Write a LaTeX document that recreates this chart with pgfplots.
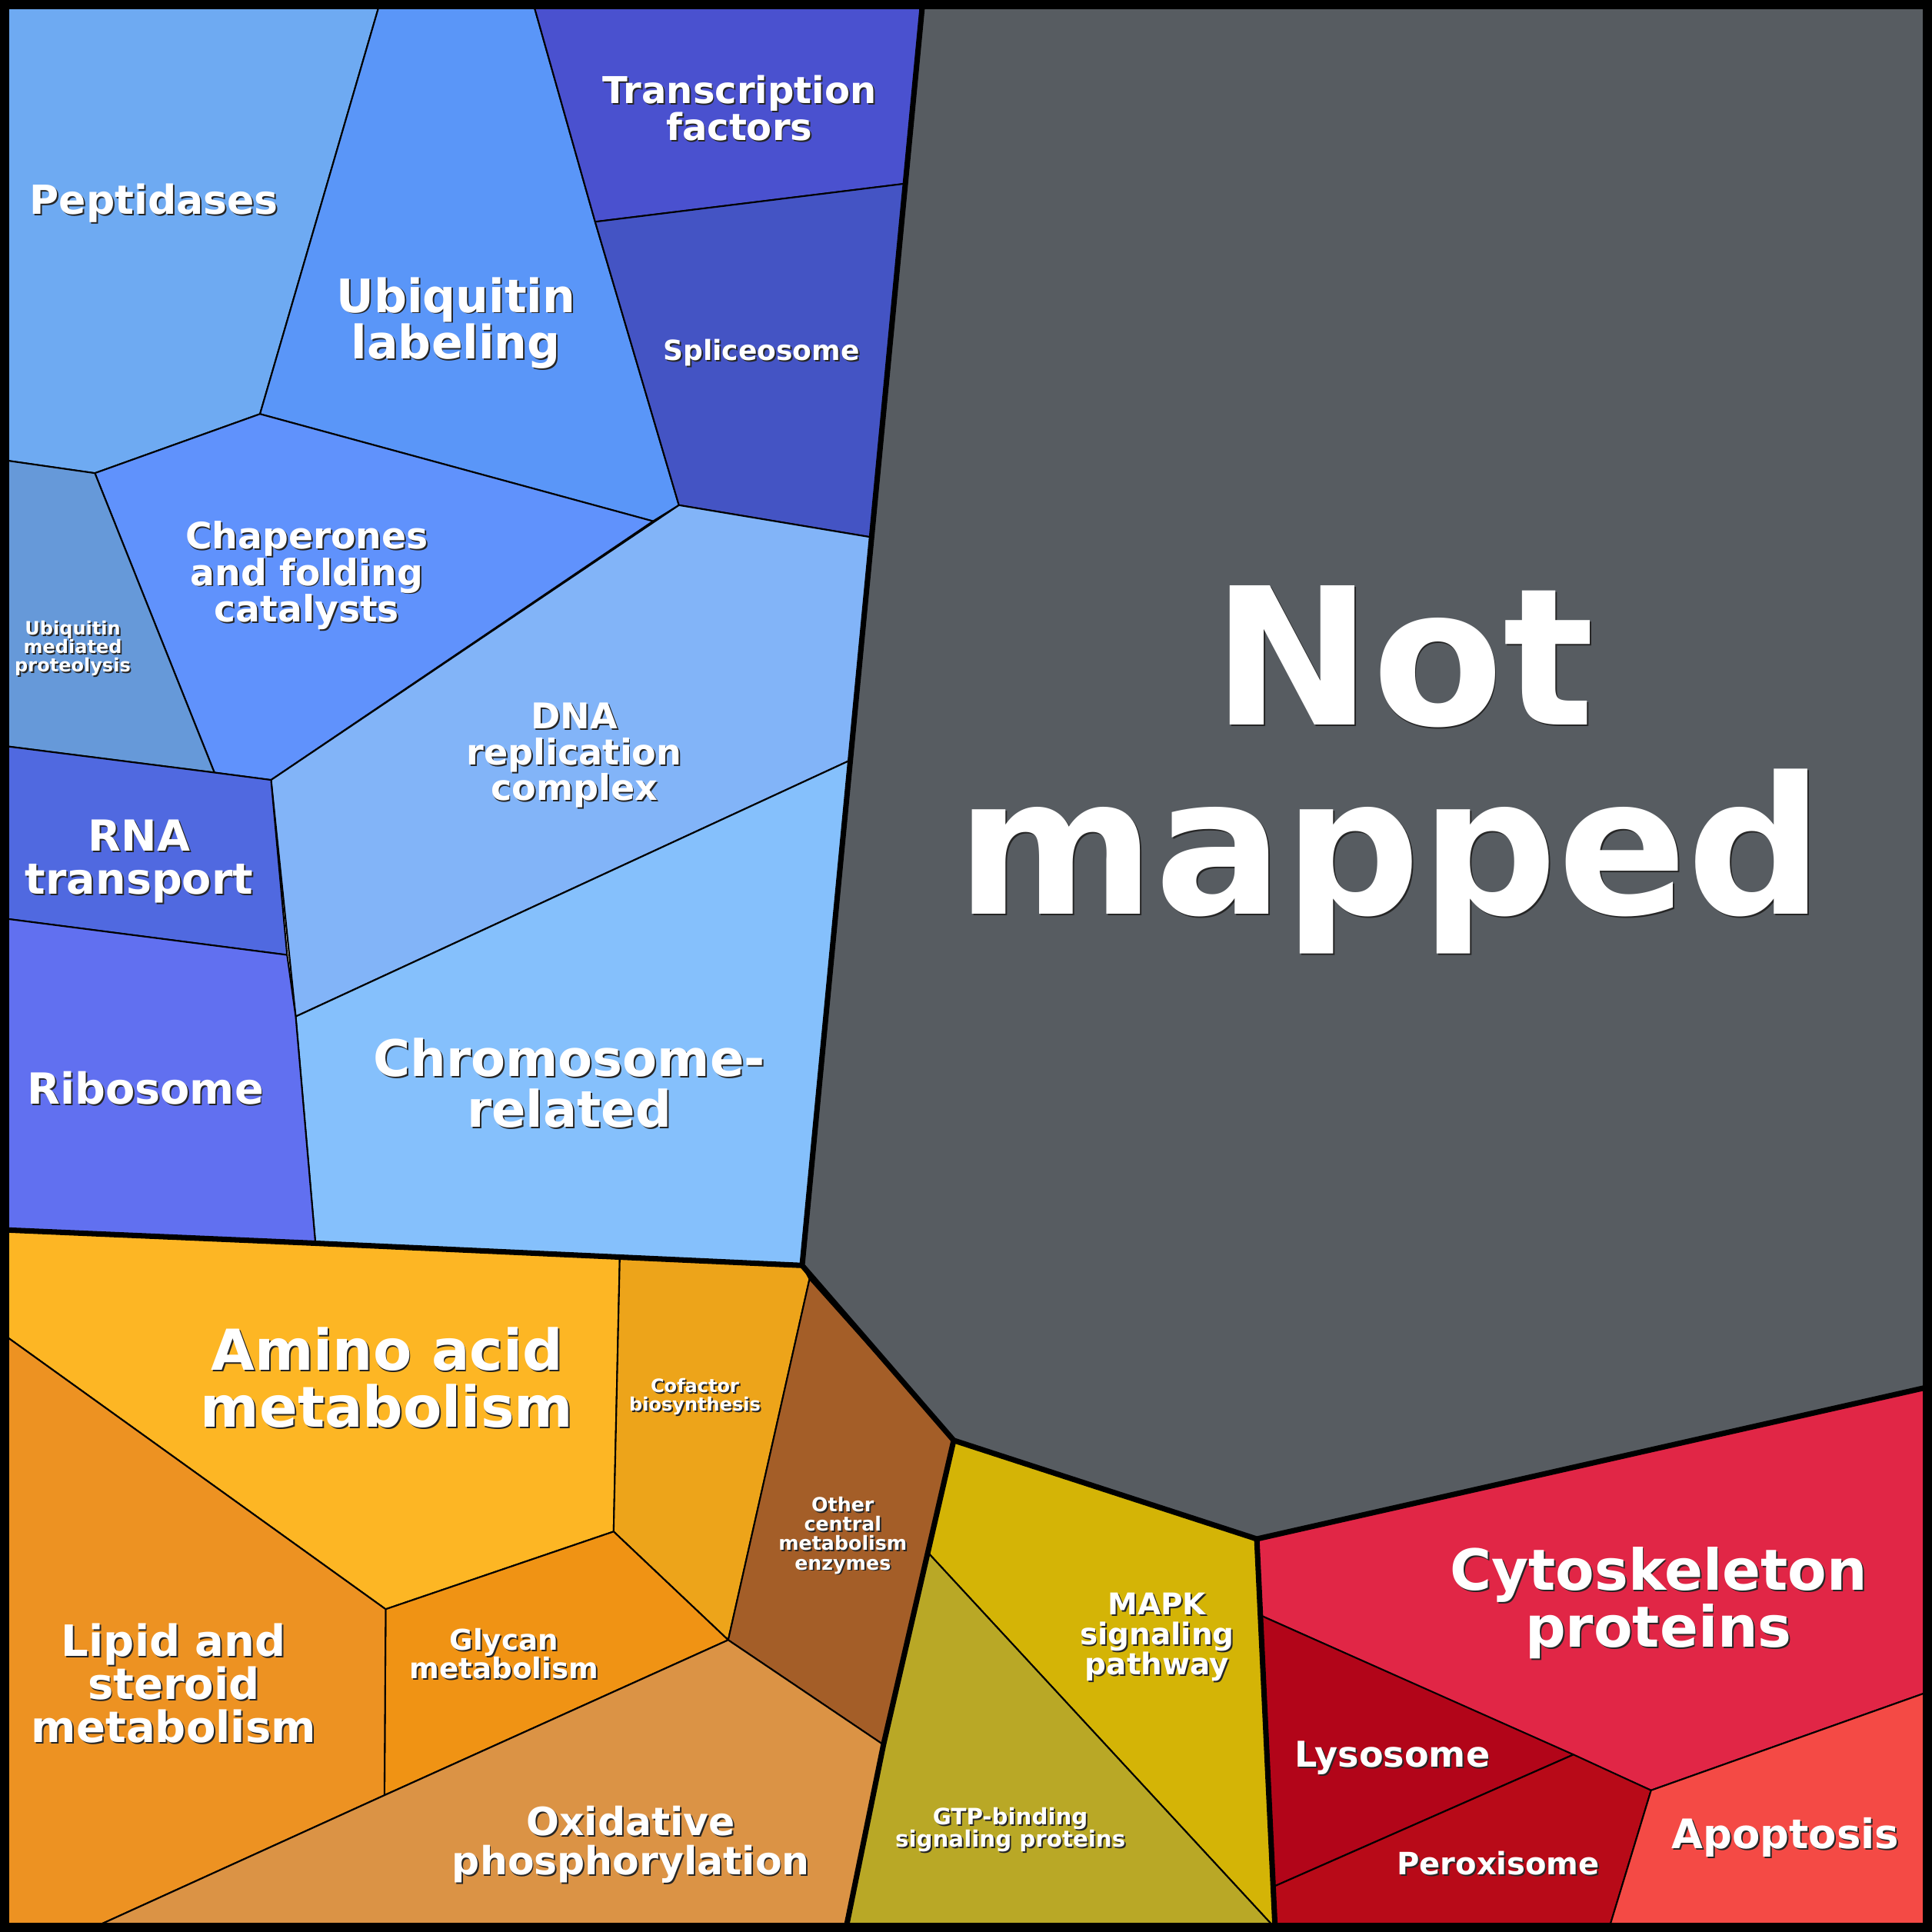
\documentclass[border=0pt]{standalone}
\usepackage{pgfplots}
\pgfplotsset{compat=1.18}
\usepackage{fontspec}
\setmainfont{DejaVu Sans}
\definecolor{cNot}{HTML}{575C61}
\definecolor{cPep}{HTML}{6EAAF2}
\definecolor{cUbl}{HTML}{5A96F8}
\definecolor{cTf}{HTML}{4A51CF}
\definecolor{cSpl}{HTML}{4454C4}
\definecolor{cCha}{HTML}{6092FC}
\definecolor{cUmp}{HTML}{6699D9}
\definecolor{cDna}{HTML}{82B4F8}
\definecolor{cChr}{HTML}{85C0FC}
\definecolor{cRna}{HTML}{5069E0}
\definecolor{cRib}{HTML}{6170F0}
\definecolor{cAmi}{HTML}{FDB624}
\definecolor{cCof}{HTML}{EDA41A}
\definecolor{cOth}{HTML}{A45E28}
\definecolor{cLip}{HTML}{ED9222}
\definecolor{cGly}{HTML}{F09314}
\definecolor{cOxi}{HTML}{DB9345}
\definecolor{cMap}{HTML}{D4B406}
\definecolor{cGtp}{HTML}{B9A826}
\definecolor{cCyt}{HTML}{E12646}
\definecolor{cLys}{HTML}{B20519}
\definecolor{cPer}{HTML}{B80A18}
\definecolor{cApo}{HTML}{F44A45}
\newcommand{\lab}[4]{%
  \node[align=center,inner sep=0pt,font=\fontsize{#3}{#3}\selectfont\bfseries,text=black!85,xshift=1.2pt,yshift=-1.2pt] at (axis cs:#1,#2) {#4};
  \node[align=center,inner sep=0pt,font=\fontsize{#3}{#3}\selectfont\bfseries,text=white] at (axis cs:#1,#2) {#4};}
\begin{document}
\begin{tikzpicture}
\begin{axis}[width=1568pt,height=1568pt,scale only axis,
  xmin=0,xmax=1568,ymin=0,ymax=1568,y dir=reverse,hide axis,clip=true]
\pgfplotsset{cell/.style={draw=black,line width=1.3pt,line join=round}}
% blue group
\addplot[cell,fill=cPep] coordinates {(0,0)(309,0)(211,336)(77,384)(0,373)(0,0)};
\addplot[cell,fill=cUbl] coordinates {(309,0)(432,0)(483,180)(551,410)(530,423)(211,336)(309,0)};
\addplot[cell,fill=cTf] coordinates {(432,0)(749,0)(735,149)(483,180)(432,0)};
\addplot[cell,fill=cSpl] coordinates {(483,180)(735,149)(707,436)(551,410)(483,180)};
\addplot[cell,fill=cCha] coordinates {(77,384)(211,336)(530,423)(220,633)(174,627)(77,384)};
\addplot[cell,fill=cUmp] coordinates {(0,373)(77,384)(174,627)(0,605)(0,373)};
\addplot[cell,fill=cDna] coordinates {(551,410)(707,436)(690,617)(240,825)(220,633)(551,410)};
\addplot[cell,fill=cChr] coordinates {(240,825)(690,617)(651,1027)(256,1009)(240,825)};
\addplot[cell,fill=cRna] coordinates {(0,605)(174,627)(220,633)(233,775)(0,745)(0,605)};
\addplot[cell,fill=cRib] coordinates {(0,745)(233,775)(240,825)(256,1009)(0,998)(0,745)};
% orange group
\addplot[cell,fill=cAmi] coordinates {(0,998)(256,1009)(503,1021)(498,1243)(313,1306)(0,1081)(0,998)};
\addplot[cell,fill=cCof] coordinates {(503,1021)(651,1027)(657,1038)(591,1331)(498,1243)(503,1021)};
\addplot[cell,fill=cOth] coordinates {(657,1038)(774,1169)(717,1416)(591,1331)(657,1038)};
\addplot[cell,fill=cGly] coordinates {(313,1306)(498,1243)(591,1331)(312,1457)(313,1306)};
\addplot[cell,fill=cLip] coordinates {(0,1081)(313,1306)(312,1457)(68,1568)(0,1568)(0,1081)};
\addplot[cell,fill=cOxi] coordinates {(68,1568)(312,1457)(591,1331)(717,1416)(686,1568)(68,1568)};
% yellow group
\addplot[cell,fill=cMap] coordinates {(774,1169)(1020,1249)(1035,1565)(754,1261)(774,1169)};
\addplot[cell,fill=cGtp] coordinates {(754,1261)(1035,1565)(1035,1568)(686,1568)(717,1416)(754,1261)};
% red group
\addplot[cell,fill=cCyt] coordinates {(1020,1249)(1568,1125)(1568,1372)(1340,1453)(1023,1311)(1020,1249)};
\addplot[cell,fill=cLys] coordinates {(1023,1311)(1277,1424)(1034,1531)(1023,1311)};
\addplot[cell,fill=cPer] coordinates {(1034,1531)(1277,1424)(1340,1453)(1305,1568)(1035,1568)(1034,1531)};
\addplot[cell,fill=cApo] coordinates {(1340,1453)(1568,1372)(1568,1568)(1305,1568)(1340,1453)};
% not mapped
\addplot[cell,fill=cNot] coordinates {(749,0)(1568,0)(1568,1125)(1020,1249)(774,1169)(651,1027)(749,0)};
% group borders
\addplot[draw=black,line width=4.4pt,line join=round] coordinates {(749,0)(651,1027)(774,1169)(1020,1249)(1568,1125)};
\addplot[draw=black,line width=4.4pt,line join=round] coordinates {(0,998)(256,1009)(651,1027)};
\addplot[draw=black,line width=4.4pt,line join=round] coordinates {(774,1169)(717,1416)(686,1568)};
\addplot[draw=black,line width=4.4pt,line join=round] coordinates {(1020,1249)(1035,1568)};
\addplot[draw=black,line width=15pt] coordinates {(0,0)(1568,0)(1568,1568)(0,1568)(0,0)(1568,0)};
% labels
\lab{125}{165}{32.5}{Peptidases}
\lab{370}{262}{37.5}{Ubiquitin\\labeling}
\lab{600}{88}{30}{Transcription\\factors}
\lab{618}{286}{22.5}{Spliceosome}
\lab{249}{467}{29.5}{Chaperones\\and folding\\catalysts}
\lab{59}{526}{15}{Ubiquitin\\mediated\\proteolysis}
\lab{466}{613}{28.8}{DNA\\replication\\complex}
\lab{113}{699}{34.7}{RNA\\transport}
\lab{118}{883}{34.8}{Ribosome}
\lab{462}{879}{40.9}{Chromosome-\\related}
\lab{1139}{533}{155}{Not}
\lab{1128}{699}{155}{mapped}
\lab{314}{1118}{45.8}{Amino acid\\metabolism}
\lab{564}{1133.5}{15}{Cofactor\\biosynthesis}
\lab{684}{1246}{15.8}{Other\\central\\metabolism\\enzymes}
\lab{141}{1366}{35}{Lipid and\\steroid\\metabolism}
\lab{409}{1342}{23.2}{Glycan\\metabolism}
\lab{512}{1497}{31.5}{Oxidative\\phosphorylation}
\lab{939}{1328.5}{24.3}{MAPK\\signaling\\pathway}
\lab{820}{1485}{18.3}{GTP-binding\\signaling proteins}
\lab{1346}{1301}{46}{Cytoskeleton\\proteins}
\lab{1130}{1427}{28.8}{Lysosome}
\lab{1216}{1512}{25}{Peroxisome}
\lab{1449}{1491}{33}{Apoptosis}
\end{axis}
\pgfresetboundingbox
\path (current axis.south west) rectangle (current axis.north east);
\end{tikzpicture}
\end{document}
